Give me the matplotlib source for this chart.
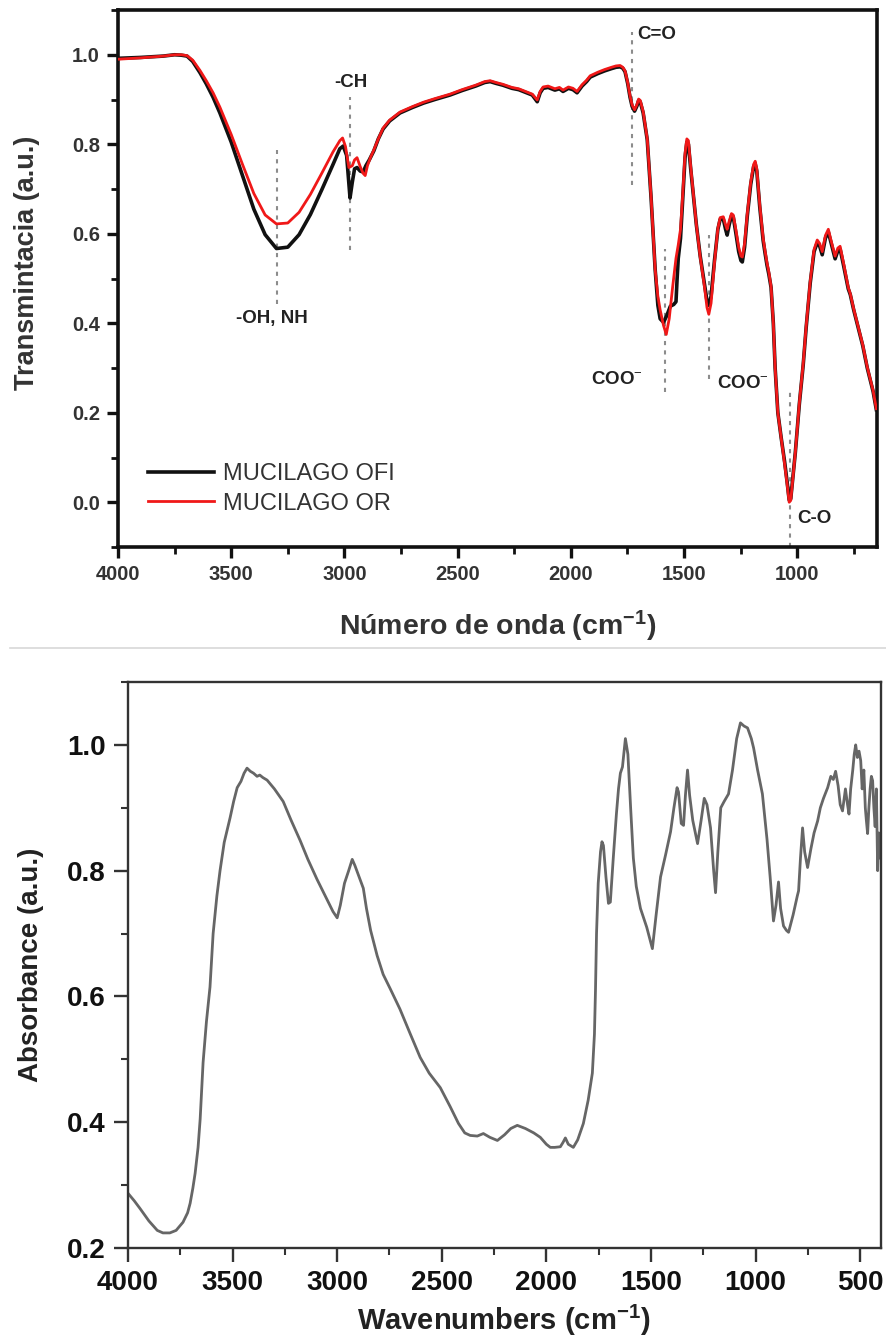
import matplotlib
matplotlib.use('Agg')
import matplotlib.pyplot as plt
from matplotlib.ticker import MultipleLocator, FixedLocator
from matplotlib.lines import Line2D

plt.rcParams['font.family'] = ['Liberation Sans', 'DejaVu Sans']
plt.rcParams['mathtext.fontset'] = 'custom'
plt.rcParams['mathtext.rm'] = 'Liberation Sans'
plt.rcParams['mathtext.bf'] = 'Liberation Sans:bold'
plt.rcParams['mathtext.it'] = 'Liberation Sans:italic'

# ---------------- data: top panel (FTIR transmittance) ----------------
wn_ofi = [4000, 3900, 3800, 3750, 3720, 3695, 3670, 3638, 3610, 3580, 3550, 3500, 3450, 3400, 3350,
          3300, 3250, 3200, 3150, 3100, 3050, 3020, 3005, 2990, 2975, 2965, 2955, 2944, 2930, 2917,
          2905, 2890, 2870, 2850, 2829, 2800, 2754, 2700, 2650, 2600, 2533, 2480, 2420, 2380, 2356,
          2330, 2300, 2260, 2230, 2200, 2170, 2155, 2148, 2135, 2122, 2100, 2070, 2050, 2034, 2010,
          1990, 1972, 1950, 1930, 1914, 1880, 1850, 1820, 1800, 1782, 1770, 1760, 1748, 1738, 1729,
          1718, 1708, 1700, 1693, 1680, 1662, 1645, 1627, 1615, 1605, 1590, 1575, 1560, 1545, 1535,
          1530, 1525, 1515, 1505, 1495, 1487, 1480, 1470, 1459, 1445, 1428, 1410, 1398, 1390, 1380,
          1365, 1350, 1340, 1326, 1316, 1309, 1300, 1290, 1282, 1270, 1258, 1248, 1242, 1232, 1220,
          1205, 1192, 1185, 1178, 1165, 1150, 1141, 1133, 1125, 1115, 1105, 1097, 1085, 1070, 1055,
          1044, 1035, 1028, 1018, 1008, 1000, 990, 973, 960, 942, 925, 911, 900, 889, 875,
          862, 850, 840, 832, 820, 810, 795, 774, 765, 750, 730, 710, 690, 675, 664,
          650]
t_ofi = [0.992, 0.994, 0.997, 1.000, 0.999, 0.997, 0.985, 0.960, 0.935, 0.905, 0.870, 0.805, 0.730, 0.655, 0.598,
         0.567, 0.570, 0.598, 0.643, 0.698, 0.755, 0.790, 0.796, 0.775, 0.680, 0.715, 0.745, 0.748, 0.740, 0.738,
         0.752, 0.765, 0.785, 0.812, 0.834, 0.852, 0.870, 0.882, 0.892, 0.900, 0.910, 0.920, 0.930, 0.938, 0.940,
         0.936, 0.932, 0.925, 0.922, 0.916, 0.910, 0.900, 0.895, 0.915, 0.925, 0.927, 0.921, 0.924, 0.918, 0.925,
         0.922, 0.915, 0.930, 0.940, 0.950, 0.958, 0.964, 0.969, 0.972, 0.973, 0.970, 0.962, 0.935, 0.905, 0.885,
         0.874, 0.885, 0.898, 0.895, 0.870, 0.810, 0.680, 0.520, 0.440, 0.410, 0.402, 0.418, 0.438, 0.442, 0.448,
         0.500, 0.545, 0.590, 0.680, 0.770, 0.805, 0.800, 0.745, 0.690, 0.620, 0.550, 0.490, 0.450, 0.440, 0.460,
         0.540, 0.610, 0.632, 0.633, 0.610, 0.597, 0.620, 0.640, 0.638, 0.600, 0.560, 0.540, 0.537, 0.570, 0.640,
         0.710, 0.750, 0.756, 0.740, 0.660, 0.585, 0.555, 0.530, 0.510, 0.480, 0.400, 0.300, 0.200, 0.143, 0.090,
         0.045, 0.005, 0.008, 0.060, 0.110, 0.158, 0.220, 0.307, 0.390, 0.490, 0.560, 0.580, 0.572, 0.553, 0.590,
         0.604, 0.580, 0.560, 0.544, 0.562, 0.566, 0.530, 0.477, 0.464, 0.430, 0.390, 0.350, 0.300, 0.270, 0.247,
         0.207]

wn_or = [4000, 3900, 3800, 3750, 3720, 3695, 3670, 3638, 3610, 3580, 3550, 3500, 3450, 3400, 3350,
         3300, 3250, 3200, 3150, 3100, 3050, 3020, 3008, 2995, 2980, 2965, 2955, 2944, 2930, 2917,
         2908, 2898, 2885, 2870, 2850, 2829, 2800, 2754, 2700, 2650, 2600, 2533, 2480, 2420, 2380,
         2356, 2330, 2300, 2260, 2230, 2200, 2170, 2155, 2148, 2135, 2122, 2100, 2070, 2050, 2034,
         2010, 1990, 1972, 1950, 1930, 1914, 1880, 1850, 1820, 1800, 1782, 1770, 1760, 1748, 1738,
         1729, 1718, 1708, 1700, 1693, 1680, 1662, 1645, 1627, 1615, 1605, 1590, 1578, 1565, 1550,
         1535, 1525, 1515, 1505, 1495, 1487, 1480, 1470, 1459, 1445, 1428, 1410, 1398, 1390, 1380,
         1365, 1350, 1340, 1326, 1316, 1309, 1300, 1290, 1282, 1270, 1258, 1248, 1242, 1232, 1220,
         1205, 1192, 1185, 1178, 1165, 1150, 1141, 1133, 1125, 1115, 1105, 1097, 1085, 1070, 1055,
         1044, 1035, 1028, 1018, 1008, 1000, 990, 973, 960, 942, 925, 911, 900, 889, 875,
         862, 850, 840, 832, 820, 810, 795, 774, 765, 750, 730, 710, 690, 675, 664,
         650]
t_or = [0.990, 0.993, 0.997, 1.000, 1.000, 0.998, 0.988, 0.965, 0.942, 0.915, 0.883, 0.822, 0.755, 0.690, 0.642,
        0.622, 0.624, 0.648, 0.688, 0.735, 0.783, 0.808, 0.814, 0.795, 0.748, 0.752, 0.765, 0.770, 0.750, 0.735,
        0.730, 0.752, 0.770, 0.787, 0.812, 0.836, 0.854, 0.872, 0.884, 0.894, 0.902, 0.912, 0.922, 0.932, 0.940,
        0.942, 0.938, 0.934, 0.927, 0.924, 0.918, 0.912, 0.903, 0.899, 0.918, 0.928, 0.930, 0.924, 0.927, 0.921,
        0.928, 0.925, 0.918, 0.933, 0.943, 0.953, 0.961, 0.967, 0.972, 0.975, 0.976, 0.972, 0.964, 0.937, 0.908,
        0.888, 0.877, 0.888, 0.901, 0.898, 0.873, 0.812, 0.682, 0.520, 0.460, 0.430, 0.395, 0.375, 0.410, 0.480,
        0.545, 0.575, 0.610, 0.690, 0.780, 0.812, 0.808, 0.750, 0.692, 0.620, 0.548, 0.485, 0.435, 0.420, 0.445,
        0.535, 0.612, 0.636, 0.638, 0.620, 0.610, 0.628, 0.645, 0.642, 0.608, 0.570, 0.550, 0.548, 0.578, 0.645,
        0.715, 0.755, 0.762, 0.745, 0.665, 0.590, 0.560, 0.535, 0.515, 0.482, 0.400, 0.300, 0.200, 0.143, 0.085,
        0.040, 0.000, 0.004, 0.058, 0.110, 0.160, 0.222, 0.310, 0.393, 0.494, 0.565, 0.586, 0.578, 0.560, 0.596,
        0.610, 0.585, 0.566, 0.550, 0.568, 0.572, 0.535, 0.480, 0.466, 0.432, 0.392, 0.352, 0.302, 0.272, 0.249,
        0.209]

series_labels = ['MUCILAGO OFI', 'MUCILAGO OR']

# peak annotations (top panel)
ann_wn = [3297, 2975, 1729, 1583, 1388, 1030]
ann_lo = [0.444, 0.564, 0.709, 0.247, 0.276, -0.10]
ann_hi = [0.787, 0.905, 1.050, 0.567, 0.597, 0.254]
ann_text = ['-OH, NH', '-CH', 'C=O', 'COO$^{-}$', 'COO$^{-}$', 'C-O']
ann_tx = [3320, 2970, 1708, 1680, 1355, 1000]
ann_ty = [0.410, 0.939, 1.046, 0.274, 0.265, -0.036]
ann_ha = ['center', 'center', 'left', 'right', 'left', 'left']

# ---------------- data: bottom panel (absorbance) ----------------
wn_abs = [4000, 3970, 3943, 3900, 3860, 3833, 3800, 3770, 3737, 3715, 3703, 3690, 3679, 3665, 3655,
          3641, 3625, 3608, 3593, 3575, 3560, 3540, 3512, 3495, 3478, 3460, 3445, 3431, 3415, 3400,
          3383, 3370, 3355, 3335, 3300, 3258, 3220, 3177, 3140, 3096, 3050, 3020, 3000, 2985, 2965,
          2945, 2928, 2915, 2895, 2875, 2860, 2840, 2809, 2780, 2746, 2700, 2650, 2603, 2560, 2507,
          2460, 2420, 2390, 2364, 2330, 2301, 2270, 2234, 2200, 2170, 2139, 2100, 2060, 2029, 2000,
          1981, 1960, 1933, 1920, 1909, 1895, 1871, 1850, 1823, 1800, 1780, 1770, 1765, 1760, 1752,
          1741, 1734, 1727, 1715, 1703, 1694, 1680, 1665, 1655, 1646, 1636, 1622, 1610, 1597, 1584,
          1570, 1550, 1520, 1493, 1475, 1454, 1430, 1406, 1390, 1375, 1368, 1355, 1344, 1335, 1325,
          1315, 1300, 1277, 1260, 1245, 1232, 1215, 1200, 1191, 1180, 1166, 1150, 1129, 1110, 1090,
          1072, 1055, 1038, 1020, 1009, 990, 967, 945, 930, 914, 902, 890, 880, 866, 852,
          842, 820, 800, 794, 785, 775, 765, 751, 735, 720, 703, 690, 675, 655, 640,
          628, 617, 605, 595, 584, 570, 560, 553, 545, 535, 528, 521, 513, 505, 497,
          490, 482, 475, 470, 464, 458, 452, 446, 440, 434, 428, 422, 416, 410, 405,
          400]
a_abs = [0.287, 0.275, 0.263, 0.243, 0.228, 0.224, 0.224, 0.228, 0.241, 0.256, 0.271, 0.295, 0.319, 0.360, 0.405,
         0.495, 0.560, 0.615, 0.700, 0.760, 0.800, 0.845, 0.884, 0.910, 0.932, 0.942, 0.955, 0.963, 0.958, 0.955,
         0.950, 0.952, 0.948, 0.944, 0.930, 0.910, 0.880, 0.848, 0.818, 0.786, 0.755, 0.735, 0.725, 0.745, 0.780,
         0.800, 0.818, 0.808, 0.790, 0.772, 0.740, 0.705, 0.665, 0.635, 0.612, 0.580, 0.540, 0.503, 0.478, 0.455,
         0.425, 0.398, 0.383, 0.379, 0.378, 0.382, 0.376, 0.371, 0.380, 0.390, 0.395, 0.390, 0.383, 0.376, 0.365,
         0.360, 0.360, 0.361, 0.368, 0.375, 0.365, 0.360, 0.372, 0.398, 0.435, 0.478, 0.540, 0.610, 0.700, 0.780,
         0.830, 0.846, 0.840, 0.790, 0.748, 0.750, 0.820, 0.890, 0.930, 0.955, 0.965, 1.010, 0.985, 0.900, 0.820,
         0.775, 0.740, 0.710, 0.676, 0.730, 0.790, 0.825, 0.862, 0.900, 0.932, 0.925, 0.875, 0.872, 0.920, 0.960,
         0.920, 0.880, 0.843, 0.880, 0.915, 0.905, 0.868, 0.800, 0.765, 0.830, 0.900, 0.910, 0.922, 0.960, 1.010,
         1.035, 1.030, 1.027, 1.010, 0.995, 0.960, 0.922, 0.850, 0.790, 0.720, 0.745, 0.782, 0.740, 0.712, 0.705,
         0.702, 0.730, 0.760, 0.768, 0.820, 0.868, 0.830, 0.805, 0.835, 0.860, 0.879, 0.900, 0.915, 0.932, 0.950,
         0.945, 0.958, 0.935, 0.905, 0.895, 0.930, 0.905, 0.890, 0.930, 0.960, 0.985, 1.000, 0.980, 0.990, 0.975,
         0.930, 0.960, 0.900, 0.880, 0.859, 0.900, 0.930, 0.950, 0.943, 0.900, 0.870, 0.930, 0.800, 0.860, 0.820,
         0.830]

top_xticks = [4000, 3500, 3000, 2500, 2000, 1500, 1000]
top_yticks = [0.0, 0.2, 0.4, 0.6, 0.8, 1.0]
bot_xticks = [4000, 3500, 3000, 2500, 2000, 1500, 1000, 500]
bot_yticks = [0.2, 0.4, 0.6, 0.8, 1.0]

# ---------------- figure ----------------
W, H = 886, 1339
fig = plt.figure(figsize=(W / 100, H / 100), dpi=100)


def px_rect(l, t, r, b):
    return [l / W, 1 - b / H, (r - l) / W, (b - t) / H]


ax1 = fig.add_axes(px_rect(118, 10, 877, 547))
ax2 = fig.add_axes(px_rect(128, 682, 881, 1248))

# ---- top panel ----
ax1.plot(wn_ofi, t_ofi, color='#111111', lw=2.6, label=series_labels[0], zorder=3)
ax1.plot(wn_or, t_or, color='#f01818', lw=2.0, label=series_labels[1], zorder=4)

ax1.vlines(ann_wn, ann_lo, ann_hi, colors='#8c8c8c', linestyles=(0, (2.0, 2.5)), lw=1.5, zorder=2)
for x, y, s, ha in zip(ann_tx, ann_ty, ann_text, ann_ha):
    ax1.text(x, y, s, ha=ha, va='center', fontsize=13.5, fontweight='bold', color='#222222', zorder=5)

ax1.set_xlim(4000, 647)
ax1.set_ylim(-0.1, 1.1)
ax1.xaxis.set_major_locator(FixedLocator(top_xticks))
ax1.xaxis.set_minor_locator(MultipleLocator(250))
ax1.yaxis.set_major_locator(FixedLocator(top_yticks))
ax1.yaxis.set_minor_locator(MultipleLocator(0.1))
ax1.yaxis.set_major_formatter(plt.FuncFormatter(lambda v, p: f'{v:.1f}'))
for sp in ax1.spines.values():
    sp.set_linewidth(2.6)
    sp.set_color('#111111')
ax1.tick_params(which='major', direction='out', length=8, width=2.4, color='#111111',
                labelsize=14.5, labelcolor='#333333', pad=5)
ax1.tick_params(which='minor', direction='out', length=5, width=2.0, color='#111111')
for lab in ax1.get_xticklabels() + ax1.get_yticklabels():
    lab.set_fontweight('bold')

leg = ax1.legend(loc='center left', bbox_to_anchor=(0.040, 0.108), frameon=False, borderpad=0,
                 borderaxespad=0, handlelength=2.8, handletextpad=0.35, labelspacing=0.3,
                 prop=dict(family='Liberation Sans', size=17))
for t in leg.get_texts():
    t.set_color('#333333')

fig.text(27 / W, 1 - 263 / H, 'Transmintacia (a.u.)', rotation=90, ha='center', va='center',
         fontsize=19.5, fontweight='bold', color='#333333')
fig.text(498 / W, 1 - 626 / H, r'Número de onda (cm$^{\mathbf{-1}}$)', ha='center', va='center',
         fontsize=20.5, fontweight='bold', color='#333333')

# separator line between the two images
fig.add_artist(Line2D([10 / W, 1.0], [1 - 648 / H, 1 - 648 / H], color='#d8d8d8', lw=1.2))

# ---- bottom panel ----
ax2.plot(wn_abs, a_abs, color='#666666', lw=2.0)
ax2.set_xlim(4000, 400)
ax2.set_ylim(0.2, 1.1)
ax2.xaxis.set_major_locator(FixedLocator(bot_xticks))
ax2.xaxis.set_minor_locator(MultipleLocator(250))
ax2.yaxis.set_major_locator(FixedLocator(bot_yticks))
ax2.yaxis.set_minor_locator(MultipleLocator(0.1))
ax2.yaxis.set_major_formatter(plt.FuncFormatter(lambda v, p: f'{v:.1f}'))
for sp in ax2.spines.values():
    sp.set_linewidth(1.7)
    sp.set_color('#333333')
ax2.tick_params(which='major', direction='out', length=10, width=1.7, color='#333333',
                labelsize=20, labelcolor='#111111', pad=6)
ax2.tick_params(which='minor', direction='out', length=5, width=1.5, color='#333333')
for lab in ax2.get_xticklabels() + ax2.get_yticklabels():
    lab.set_fontweight('bold')

fig.text(31 / W, 1 - 965 / H, 'Absorbance (a.u.)', rotation=90, ha='center', va='center',
         fontsize=20, fontweight='bold', color='#222222')
fig.text(504 / W, 1 - 1320 / H, r'Wavenumbers (cm$^{\mathbf{-1}}$)', ha='center', va='center',
         fontsize=21, fontweight='bold', color='#222222')

fig.savefig('out.png', dpi=100)
